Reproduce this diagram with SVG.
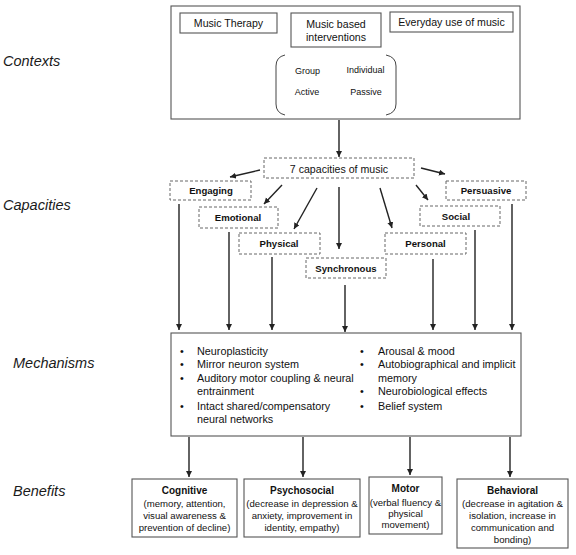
<svg xmlns="http://www.w3.org/2000/svg" width="576" height="555" viewBox="0 0 576 555">
<defs>
<style>
.t{font-family:"Liberation Sans",Arial,sans-serif;fill:#111;}
.c{text-anchor:middle;}
.lab{font-family:"Liberation Sans",Arial,sans-serif;font-style:italic;font-size:14.5px;fill:#1a1a1a;}
.box{fill:#fff;stroke:#555;stroke-width:1.1;}
.dash{fill:#fff;stroke:#666;stroke-width:1;stroke-dasharray:3 2;}
.cap{font-size:9.6px;font-weight:bold;}
.ctx{font-size:10.6px;}
.small{font-size:9px;}
.mech{font-size:10.8px;}
.bt{font-size:10px;font-weight:bold;}
.bb{font-size:9.6px;}
.ar{stroke:#222;stroke-width:1.4;fill:none;marker-end:url(#ah);}
</style>
<marker id="ah" markerUnits="userSpaceOnUse" markerWidth="8" markerHeight="8" refX="6" refY="3" orient="auto">
<path d="M0,0 L6,3 L0,6 Z" fill="#222"/>
</marker>
</defs>
<rect width="576" height="555" fill="#fff"/>

<g id="labels">
<text class="lab" x="3" y="66">Contexts</text>
<text class="lab" x="3" y="210">Capacities</text>
<text class="lab" x="13" y="368">Mechanisms</text>
<text class="lab" x="13" y="496">Benefits</text>
</g>

<g id="contexts">
<rect class="box" x="171" y="6" width="349" height="113"/>
<g id="music-therapy">
<rect class="box" x="180" y="13" width="97" height="20"/>
<text class="t c ctx" x="228.5" y="27">Music Therapy</text>
</g>
<g id="music-based">
<rect class="box" x="291" y="13" width="90" height="34"/>
<text class="t c ctx" x="336" y="28">Music based</text>
<text class="t c ctx" x="336" y="41">interventions</text>
</g>
<g id="everyday">
<rect class="box" x="390" y="12" width="123" height="20"/>
<text class="t c ctx" x="451.5" y="26">Everyday use of music</text>
</g>
<g id="modes">
<path d="M285,55 Q276,57 276,66 L276,104 Q276,113 285,115" fill="none" stroke="#444" stroke-width="1"/>
<path d="M386,55 Q396,57 396,66 L396,104 Q396,113 386,115" fill="none" stroke="#444" stroke-width="1"/>
<text class="t c small" x="307.5" y="74">Group</text>
<text class="t c small" x="365.5" y="73">Individual</text>
<text class="t c small" x="307" y="95">Active</text>
<text class="t c small" x="366" y="95">Passive</text>
</g>
</g>

<g id="seven-capacities">
<rect class="dash" x="264" y="158" width="150" height="20"/>
<text class="t c ctx" x="339" y="172.5">7 capacities of music</text>
</g>
<g id="engaging">
<rect class="dash" x="170" y="181" width="81" height="19"/>
<text class="t c cap" x="211" y="194">Engaging</text>
</g>
<g id="emotional">
<rect class="dash" x="199" y="207" width="79" height="21"/>
<text class="t c cap" x="238" y="221">Emotional</text>
</g>
<g id="physical">
<rect class="dash" x="239" y="233" width="81" height="21"/>
<text class="t c cap" x="279" y="247">Physical</text>
</g>
<g id="synchronous">
<rect class="dash" x="306" y="258" width="80" height="20"/>
<text class="t c cap" x="346" y="272">Synchronous</text>
</g>
<g id="personal">
<rect class="dash" x="385" y="233" width="81" height="21"/>
<text class="t c cap" x="425.5" y="247">Personal</text>
</g>
<g id="social">
<rect class="dash" x="420" y="206" width="80" height="20"/>
<text class="t c cap" x="456" y="220">Social</text>
</g>
<g id="persuasive">
<rect class="dash" x="446" y="181" width="80" height="19"/>
<text class="t c cap" x="486" y="194">Persuasive</text>
</g>

<g id="mechanisms">
<rect class="box" x="171" y="333" width="350" height="103"/>
<g class="t mech">
<text x="180" y="354.5">•</text><text x="197" y="354.5">Neuroplasticity</text>
<text x="180" y="367.5">•</text><text x="197" y="367.5">Mirror neuron system</text>
<text x="180" y="381.5">•</text><text x="197" y="381.5">Auditory motor coupling &amp; neural</text>
<text x="197" y="395">entrainment</text>
<text x="180" y="410">•</text><text x="197" y="410">Intact shared/compensatory</text>
<text x="197" y="423">neural networks</text>
<text x="360" y="354.5">•</text><text x="378" y="354.5">Arousal &amp; mood</text>
<text x="360" y="367.5">•</text><text x="378" y="367.5">Autobiographical and implicit</text>
<text x="378" y="381.5">memory</text>
<text x="360" y="395">•</text><text x="378" y="395">Neurobiological effects</text>
<text x="360" y="410">•</text><text x="378" y="410">Belief system</text>
</g>
</g>

<g id="cognitive">
<rect class="box" x="132" y="479" width="105" height="58"/>
<text class="t c bt" x="184.5" y="494">Cognitive</text>
<text class="t c bb" x="184.5" y="507">(memory, attention,</text>
<text class="t c bb" x="184.5" y="519">visual awareness &amp;</text>
<text class="t c bb" x="184.5" y="531">prevention of decline)</text>
</g>
<g id="psychosocial">
<rect class="box" x="244" y="479" width="116" height="58"/>
<text class="t c bt" x="302" y="494">Psychosocial</text>
<text class="t c bb" x="302" y="507">(decrease in depression &amp;</text>
<text class="t c bb" x="302" y="519">anxiety, improvement in</text>
<text class="t c bb" x="302" y="531">identity, empathy)</text>
</g>
<g id="motor">
<rect class="box" x="369" y="477" width="73" height="57"/>
<text class="t c bt" x="405.5" y="492">Motor</text>
<text class="t c bb" x="405.5" y="506">(verbal fluency &amp;</text>
<text class="t c bb" x="405.5" y="517">physical</text>
<text class="t c bb" x="405.5" y="528">movement)</text>
</g>
<g id="behavioral">
<rect class="box" x="457" y="479" width="111" height="69"/>
<text class="t c bt" x="512.5" y="494">Behavioral</text>
<text class="t c bb" x="512.5" y="507">(decrease in agitation &amp;</text>
<text class="t c bb" x="512.5" y="519">isolation, increase in</text>
<text class="t c bb" x="512.5" y="531">communication and</text>
<text class="t c bb" x="512.5" y="543">bonding)</text>
</g>

<g id="connectors">
<line class="ar" x1="339" y1="120" x2="339" y2="157"/>
<line class="ar" x1="260" y1="170" x2="230" y2="177"/>
<line class="ar" x1="421" y1="168" x2="445" y2="174"/>
<line class="ar" x1="282" y1="185" x2="264" y2="204"/>
<line class="ar" x1="317" y1="188" x2="294" y2="229"/>
<line class="ar" x1="339" y1="187" x2="339" y2="249"/>
<line class="ar" x1="380" y1="188" x2="392" y2="228"/>
<line class="ar" x1="416" y1="185" x2="428" y2="200"/>
<line class="ar" x1="179" y1="204" x2="179" y2="330"/>
<line class="ar" x1="229" y1="232" x2="229" y2="330"/>
<line class="ar" x1="272" y1="257" x2="272" y2="330"/>
<line class="ar" x1="345" y1="285" x2="345" y2="332"/>
<line class="ar" x1="433" y1="259" x2="433" y2="330"/>
<line class="ar" x1="475" y1="230" x2="475" y2="330"/>
<line class="ar" x1="512" y1="204" x2="512" y2="330"/>
<line class="ar" x1="189" y1="437" x2="189" y2="477"/>
<line class="ar" x1="303" y1="437" x2="303" y2="477"/>
<line class="ar" x1="410" y1="437" x2="410" y2="475"/>
<line class="ar" x1="510" y1="437" x2="510" y2="477"/>
</g>
</svg>
